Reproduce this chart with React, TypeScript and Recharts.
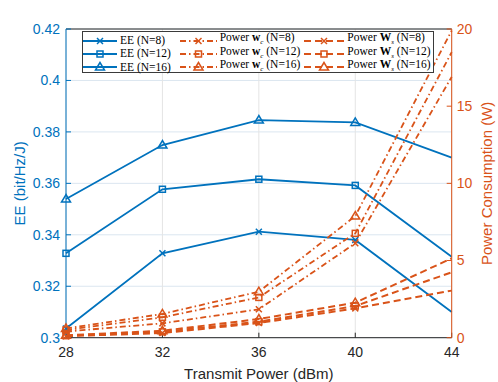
import React from 'react';
import {
  LineChart,
  Line,
  XAxis,
  YAxis,
  CartesianGrid,
  ReferenceLine,
  Legend
} from 'recharts';

// Transmit power (dBm) on the x axis
const powerDbm = [28, 32, 36, 40, 44];

// Energy efficiency (bit/Hz/J), left axis
const eeN8 = [0.3036, 0.3328, 0.3412, 0.338, 0.31];
const eeN12 = [0.3328, 0.3577, 0.3616, 0.3592, 0.3315];
const eeN16 = [0.3539, 0.3749, 0.3846, 0.3837, 0.37];

// Power consumption (W), right axis
const wcN8 = [0.4, 0.93, 1.84, 6.12, 16.9];
const wcN12 = [0.5, 1.32, 2.61, 6.76, 18.5];
const wcN16 = [0.6, 1.54, 2.98, 7.88, 19.9];
const wsN8 = [0.1, 0.3, 0.95, 1.9, 3.05];
const wsN12 = [0.13, 0.38, 1.04, 2.05, 4.24];
const wsN16 = [0.16, 0.45, 1.21, 2.27, 5.14];

const leftTicks = [0.3, 0.32, 0.34, 0.36, 0.38, 0.4, 0.42];
const rightTicks = [0, 5, 10, 15, 20];

const data = powerDbm.map((p, i) => ({
  p,
  eeN8: eeN8[i],
  eeN12: eeN12[i],
  eeN16: eeN16[i],
  wcN8: wcN8[i],
  wcN12: wcN12[i],
  wcN16: wcN16[i],
  wsN8: wsN8[i],
  wsN12: wsN12[i],
  wsN16: wsN16[i],
}));

const BLUE = '#0072BD';
const ORANGE = '#D95319';
const DARK = '#262626';
const SANS = '"Liberation Sans", Arial, sans-serif';
const SERIF = '"Liberation Serif", "DejaVu Serif", serif';

const DASHDOT = '6 3 1.5 3';
const DASHED = '7 4';

type Shape = 'x' | 'square' | 'triangle';

const Marker = ({ cx, cy, shape, color }: { cx: number; cy: number; shape: Shape; color: string }) => {
  if (shape === 'x') {
    return (
      <g stroke={color} strokeWidth={1.5} fill="none">
        <line x1={cx - 3} y1={cy - 3} x2={cx + 3} y2={cy + 3} />
        <line x1={cx - 3} y1={cy + 3} x2={cx + 3} y2={cy - 3} />
      </g>
    );
  }
  if (shape === 'square') {
    return <rect x={cx - 3} y={cy - 3} width={6} height={6} stroke={color} strokeWidth={1.5} fill="none" />;
  }
  return (
    <polygon
      points={`${cx},${cy - 4.5} ${cx - 4.5},${cy + 3} ${cx + 4.5},${cy + 3}`}
      stroke={color}
      strokeWidth={1.5}
      fill="none"
    />
  );
};

const series = [
  { key: 'eeN8', axis: 'left', color: BLUE, dash: undefined, shape: 'x', width: 1.8, label: 'ee', n: 8 },
  { key: 'eeN12', axis: 'left', color: BLUE, dash: undefined, shape: 'square', width: 1.8, label: 'ee', n: 12 },
  { key: 'eeN16', axis: 'left', color: BLUE, dash: undefined, shape: 'triangle', width: 1.8, label: 'ee', n: 16 },
  { key: 'wcN8', axis: 'right', color: ORANGE, dash: DASHDOT, shape: 'x', width: 1.8, label: 'wc', n: 8 },
  { key: 'wcN12', axis: 'right', color: ORANGE, dash: DASHDOT, shape: 'square', width: 1.8, label: 'wc', n: 12 },
  { key: 'wcN16', axis: 'right', color: ORANGE, dash: DASHDOT, shape: 'triangle', width: 1.8, label: 'wc', n: 16 },
  { key: 'wsN8', axis: 'right', color: ORANGE, dash: DASHED, shape: 'x', width: 2, label: 'ws', n: 8 },
  { key: 'wsN12', axis: 'right', color: ORANGE, dash: DASHED, shape: 'square', width: 2, label: 'ws', n: 12 },
  { key: 'wsN16', axis: 'right', color: ORANGE, dash: DASHED, shape: 'triangle', width: 2, label: 'ws', n: 16 },
] as const;

const LegendText = ({ label, n }: { label: string; n: number }) => {
  if (label === 'ee') return <span>EE (N={n})</span>;
  return (
    <span>
      Power{' '}
      <b>{label === 'wc' ? 'w' : 'W'}</b>
      <sub style={{ fontSize: 7, fontStyle: 'italic' }}>{label === 'wc' ? 'c' : 's'}</sub> (N={n})
    </span>
  );
};

const colWidths = [97, 125, 129];
const sampleWidths = [34, 37, 40];

const LegendBox = () => {
  const cols = [series.slice(0, 3), series.slice(3, 6), series.slice(6, 9)];
  return (
    <div
      style={{
        display: 'flex',
        background: '#fff',
        border: '1px solid #3a3a3a',
        boxSizing: 'border-box',
        width: 352,
        height: 42,
        paddingTop: 2,
        fontFamily: SERIF,
        fontSize: 11.5,
        color: '#000',
        lineHeight: '13.3px',
      }}
    >
      {cols.map((col, ci) => (
        <div key={ci} style={{ width: colWidths[ci] }}>
          {col.map((s) => (
            <div key={s.key} style={{ display: 'flex', alignItems: 'center', height: 13.3, whiteSpace: 'nowrap' }}>
              <svg width={sampleWidths[ci]} height={12} style={{ flexShrink: 0 }}>
                <line
                  x1={0}
                  y1={6}
                  x2={sampleWidths[ci]}
                  y2={6}
                  stroke={s.color}
                  strokeWidth={s.width}
                  strokeDasharray={s.dash}
                />
                <Marker cx={sampleWidths[ci] / 2} cy={6} shape={s.shape} color={s.color} />
              </svg>
              <span style={{ marginLeft: 3 }}>
                <LegendText label={s.label} n={s.n} />
              </span>
            </div>
          ))}
        </div>
      ))}
    </div>
  );
};

const lastIndex = powerDbm.length - 1;

const App = () => (
  <div style={{ position: 'absolute', left: 0, top: 0, background: '#fff' }}>
    <LineChart width={498} height={382} data={data} margin={{ top: 29, right: 0, bottom: 0, left: 0 }}>
      <CartesianGrid yAxisId="left" vertical={false} stroke="#dbe6f0" />
      <CartesianGrid yAxisId="left" horizontal={false} stroke="#e4e4e4" />
      <XAxis
        dataKey="p"
        type="number"
        domain={[28, 44]}
        ticks={powerDbm}
        height={44.3}
        stroke={DARK}
        tickSize={-5}
        tickMargin={14}
        tick={{ fill: DARK, fontSize: 14, fontFamily: SANS }}
        label={{ value: 'Transmit Power (dBm)', position: 'insideBottom', offset: 3, fill: DARK, fontSize: 15, fontFamily: SANS }}
      />
      <YAxis
        yAxisId="left"
        domain={[0.3, 0.42]}
        ticks={leftTicks}
        width={66}
        stroke={BLUE}
        tickSize={-5}
        tickMargin={11}
        tick={{ fill: BLUE, fontSize: 14, fontFamily: SANS }}
        label={{ value: 'EE (bit/Hz/J)', angle: -90, position: 'center', dx: -13, fill: BLUE, fontSize: 15, fontFamily: SANS }}
      />
      <YAxis
        yAxisId="right"
        orientation="right"
        domain={[0, 20]}
        ticks={rightTicks}
        width={46.3}
        stroke={ORANGE}
        tickSize={-5}
        tickMargin={10}
        tick={{ fill: ORANGE, fontSize: 14, fontFamily: SANS }}
        label={{ value: 'Power Consumption (W)', angle: -90, position: 'center', dx: 12, fill: ORANGE, fontSize: 15, fontFamily: SANS }}
      />
      <ReferenceLine yAxisId="left" y={0.42} stroke={DARK} strokeWidth={1} />
      {series.map((s) => (
        <Line
          key={s.key}
          yAxisId={s.axis}
          dataKey={s.key}
          stroke={s.color}
          strokeWidth={s.width}
          strokeDasharray={s.dash}
          isAnimationActive={false}
          dot={(props: any) =>
            props.index === lastIndex ? (
              <g key={`${s.key}-${props.index}`} />
            ) : (
              <Marker key={`${s.key}-${props.index}`} cx={props.cx} cy={props.cy} shape={s.shape} color={s.color} />
            )
          }
          activeDot={false}
        />
      ))}
      <Legend
        layout="horizontal"
        verticalAlign="middle"
        content={() => <LegendBox />}
        wrapperStyle={{ left: 82, top: 31, width: 352, height: 42 }}
      />
    </LineChart>
  </div>
);

export default App;
